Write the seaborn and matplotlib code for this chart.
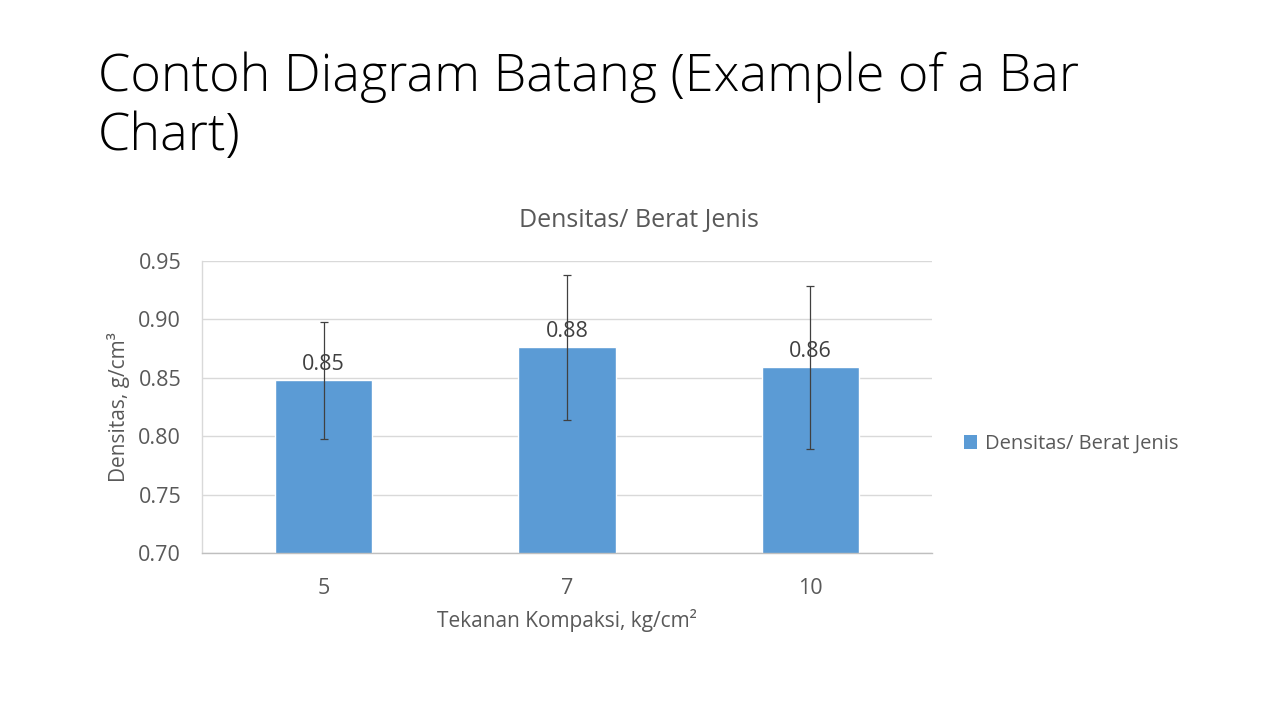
import matplotlib
matplotlib.use("Agg")
import matplotlib.pyplot as plt
import seaborn as sns
import pandas as pd
from matplotlib.patches import Patch

categories = ["5", "7", "10"]
densitas = [0.848, 0.876, 0.859]
errors = [0.050, 0.062, 0.070]
labels = ["0.85", "0.88", "0.86"]
yticks = [0.70, 0.75, 0.80, 0.85, 0.90, 0.95]

sns.set_theme(style="white")
plt.rcParams["font.family"] = ["Open Sans", "DejaVu Sans"]

df = pd.DataFrame({"Tekanan": categories, "Densitas": densitas})

fig = plt.figure(figsize=(12.8, 7.2), dpi=100)
ax = fig.add_axes([202/1280, 1 - 553/720, 730/1280, 292/720])

text_col = "#595959"
bar_color = "#5b9bd5"
sns.barplot(data=df, x="Tekanan", y="Densitas", order=categories, color=bar_color,
            saturation=1, width=0.4, errorbar=None, ax=ax)
ax.errorbar(range(len(categories)), densitas, yerr=errors, fmt="none",
            ecolor="#404040", elinewidth=0.9, capsize=3, capthick=0.9, zorder=5)

for i, (v, lab) in enumerate(zip(densitas, labels)):
    ax.annotate(lab, (i, v), xytext=(0, 4), textcoords="offset points",
                ha="center", va="bottom", fontsize=15.5, color="#404040", zorder=6)

ax.set_ylim(0.70, 0.95)
ax.set_xlim(-0.5, 2.5)
ax.set_yticks(yticks)
ax.set_yticklabels([f"{t:.2f}" for t in yticks])
ax.yaxis.grid(True, color="#d9d9d9", linewidth=1)
ax.set_axisbelow(True)
ax.tick_params(axis="both", length=0, labelsize=15.5, colors=text_col)
ax.tick_params(axis="y", pad=15)
ax.tick_params(axis="x", pad=18)
for s in ["top", "right"]:
    ax.spines[s].set_visible(False)
ax.spines["left"].set_color("#d9d9d9")
ax.spines["bottom"].set_color("#bfbfbf")
ax.spines["left"].set_linewidth(1)
ax.spines["bottom"].set_linewidth(1)

ax.set_xlabel("Tekanan Kompaksi, kg/cm²", fontsize=15, color=text_col, labelpad=7)
ax.set_ylabel("Densitas, g/cm³", fontsize=15, color=text_col, labelpad=6)
fig.text(639/1280, 1 - 221/720, "Densitas/ Berat Jenis", fontsize=18, color=text_col,
         ha="center", va="center")

handle = Patch(facecolor=bar_color, edgecolor="none")
fig.legend([handle], ["Densitas/ Berat Jenis"], loc="center left",
           bbox_to_anchor=(946/1280, 1 - 444/720), frameon=False,
           fontsize=14.5, labelcolor=text_col, handlelength=0.65, handleheight=0.65,
           handletextpad=0.4)

fig.text(98/1280, 1 - 107/720, "Contoh Diagram Batang (Example of a Bar\nChart)",
         fontsize=37.5, color="black", ha="left", va="center", linespacing=1.2,
         fontweight="light")

fig.savefig("out.png", dpi=100, facecolor="white")
